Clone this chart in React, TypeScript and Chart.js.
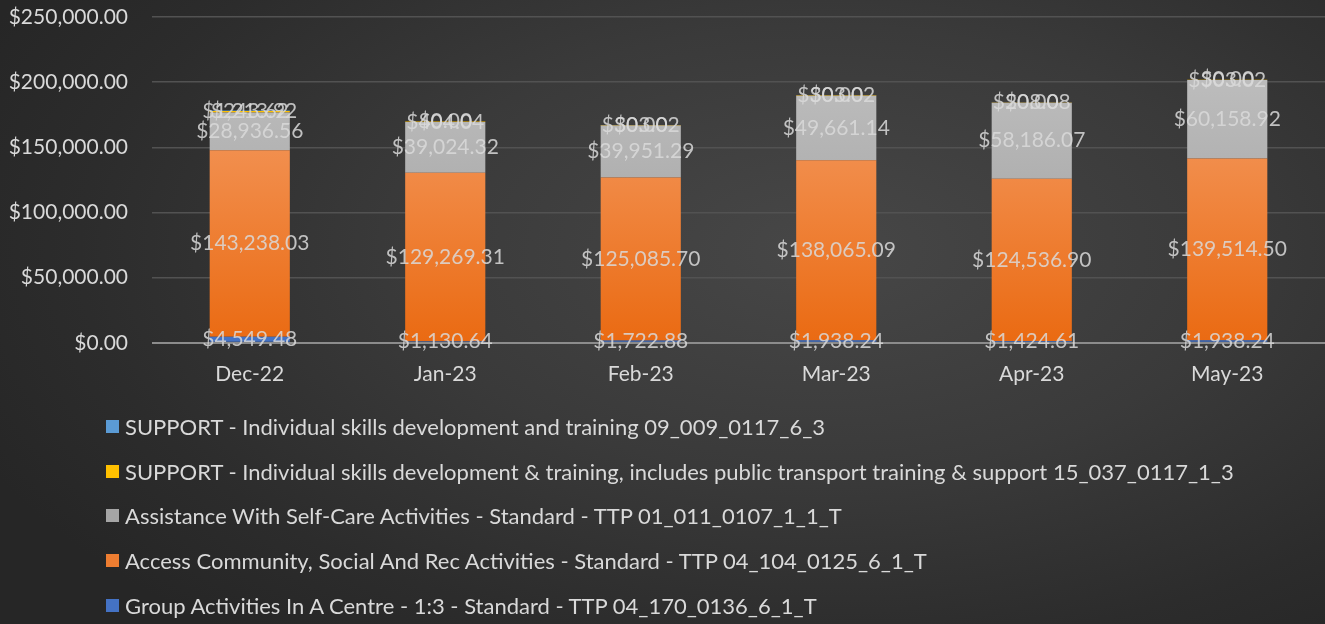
import React, { useEffect, useRef } from 'react';
import { Chart, registerables } from 'chart.js';

Chart.register(...registerables);

const categories = ['Dec-22', 'Jan-23', 'Feb-23', 'Mar-23', 'Apr-23', 'May-23'];
const groupActivities = [4549.48, 1130.64, 1722.88, 1938.24, 1424.61, 1938.24];
const accessCommunity = [143238.03, 129269.31, 125085.7, 138065.09, 124536.9, 139514.5];
const selfCare = [28936.56, 39024.32, 39951.29, 49661.14, 58186.07, 60158.92];
const supportTransport = [1213.92, 404.04, 303.02, 303.02, 208.08, 303.02];
const supportSkills = [243.62, 0, 0, 0, 0, 0];

const seriesNames = [
  'Group Activities In A Centre - 1:3 - Standard - TTP 04_170_0136_6_1_T',
  'Access Community, Social And Rec Activities - Standard - TTP 04_104_0125_6_1_T',
  'Assistance With Self-Care Activities - Standard - TTP 01_011_0107_1_1_T',
  'SUPPORT - Individual skills development & training, includes public transport training & support 15_037_0117_1_3',
  'SUPPORT - Individual skills development and training 09_009_0117_6_3',
];
const seriesColors = ['#4472C4', '#ED7D31', '#A5A5A5', '#FFC000', '#5B9BD5'];
const yMax = 250000;
const yStep = 50000;

const FONT = "Lato, 'Open Sans', sans-serif";
const TEXT = '#D9D9D9';

const fmt = (v: number) =>
  '$' + v.toLocaleString('en-US', { minimumFractionDigits: 2, maximumFractionDigits: 2 });

const labelPlugin = {
  id: 'segLabels',
  afterDatasetsDraw(chart: any) {
    const ctx = chart.ctx;
    ctx.save();
    ctx.font = `21px ${FONT}`;
    ctx.fillStyle = 'rgba(217,217,217,0.85)';
    ctx.textAlign = 'center';
    ctx.textBaseline = 'middle';
    chart.data.datasets.forEach((ds: any, i: number) => {
      const meta = chart.getDatasetMeta(i);
      meta.data.forEach((el: any, j: number) => {
        const v = ds.data[j];
        const p = el.getProps(['x', 'y', 'base'], true);
        ctx.fillText(fmt(v), p.x, (p.y + p.base) / 2);
      });
    });
    ctx.restore();
  },
};

function gradientFill(light: string, dark: string) {
  return (c: any) => {
    const chart = c.chart;
    const area = chart.chartArea;
    if (!area) return dark;
    const g = chart.ctx.createLinearGradient(0, area.top, 0, area.bottom);
    g.addColorStop(0, light);
    g.addColorStop(1, dark);
    return g;
  };
}

export default function App() {
  const ref = useRef<HTMLCanvasElement>(null);

  useEffect(() => {
    if (!ref.current) return;
    const values = [groupActivities, accessCommunity, selfCare, supportTransport, supportSkills];
    const fills = [
      seriesColors[0],
      gradientFill('#F7A877', '#EA6A12'),
      gradientFill('#C4C4C4', '#9C9C9C'),
      seriesColors[3],
      seriesColors[4],
    ];
    const chart = new Chart(ref.current, {
      type: 'bar',
      data: {
        labels: categories,
        datasets: values.map((d, i) => ({
          label: seriesNames[i],
          data: d,
          backgroundColor: fills[i] as any,
          borderWidth: 0,
          barPercentage: 0.41,
          categoryPercentage: 1,
        })),
      },
      options: {
        animation: false,
        responsive: false,
        maintainAspectRatio: false,
        layout: { autoPadding: false, padding: { top: 17, right: 0, left: 0, bottom: 0 } },
        plugins: { legend: { display: false }, tooltip: { enabled: false } },
        scales: {
          x: {
            stacked: true,
            grid: { display: false },
            border: { display: false },
            ticks: { color: TEXT, font: { family: FONT, size: 21 }, padding: 11 },
          },
          y: {
            stacked: true,
            min: 0,
            max: yMax,
            afterFit: (s: any) => {
              s.width = 152;
              s.paddingTop = 0;
              s.paddingBottom = 0;
            },
            border: { display: false },
            grid: {
              drawTicks: false,
              color: (c: any) => (c.tick && c.tick.value === 0 ? '#8C8C8C' : '#525252'),
              lineWidth: (c: any) => (c.tick && c.tick.value === 0 ? 2 : 1.5),
            },
            ticks: {
              stepSize: yStep,
              color: TEXT,
              padding: 24,
              font: { family: FONT, size: 21 },
              callback: (v: any) => fmt(Number(v)),
            },
          },
        },
      },
      plugins: [labelPlugin],
    });
    return () => chart.destroy();
  }, []);

  const legendOrder = [4, 3, 2, 1, 0];

  return (
    <div
      style={{
        position: 'fixed',
        left: 0,
        top: 0,
        width: 1325,
        height: 624,
        overflow: 'hidden',
        background:
          'radial-gradient(ellipse 70% 80% at 62% 40%, #474747 0%, #3a3a3a 45%, #2c2c2c 80%, #262626 100%)',
        fontFamily: FONT,
      }}
    >
      <canvas ref={ref} width={1325} height={398} style={{ display: 'block' }} />
      <div style={{ position: 'absolute', left: 106, top: 404 }}>
        {legendOrder.map((i) => (
          <div
            key={i}
            style={{
              display: 'flex',
              alignItems: 'center',
              height: 44.8,
              color: TEXT,
              fontSize: 22,
              whiteSpace: 'nowrap',
            }}
          >
            <span
              style={{
                display: 'inline-block',
                width: 13,
                height: 13,
                background: seriesColors[i],
                marginRight: 6,
              }}
            />
            <span>{seriesNames[i]}</span>
          </div>
        ))}
      </div>
    </div>
  );
}
